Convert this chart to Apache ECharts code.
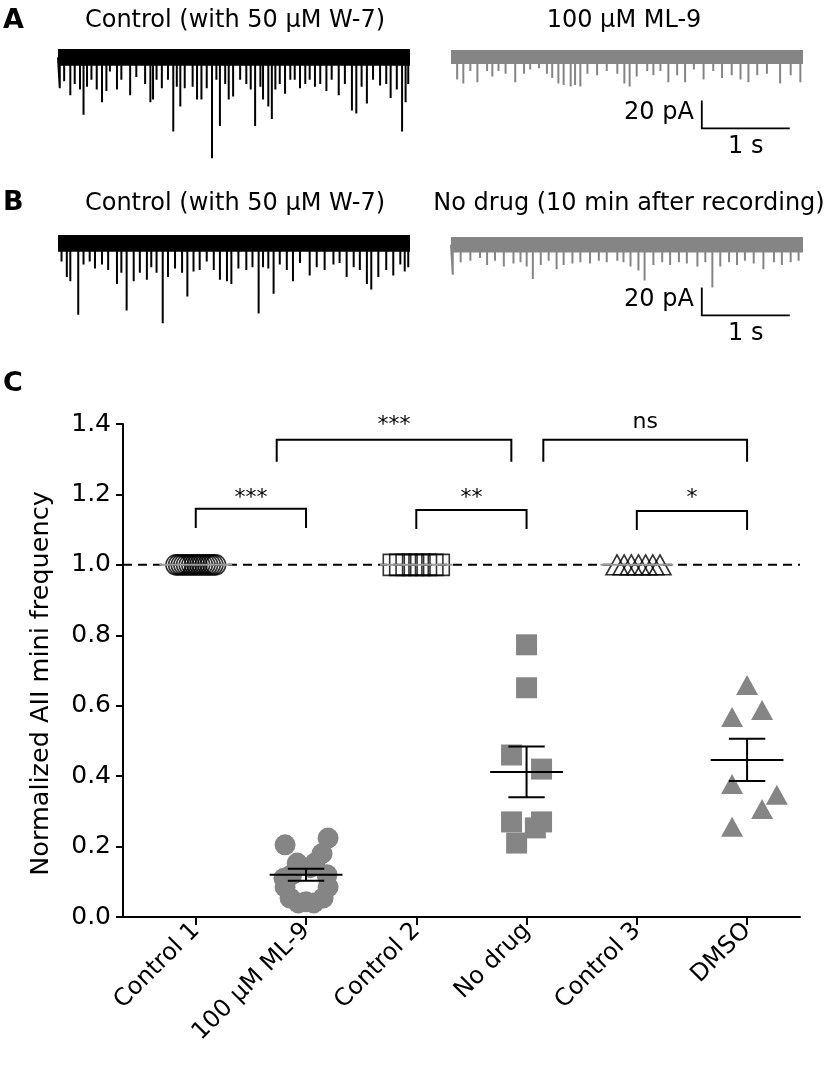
<!DOCTYPE html>
<html><head><meta charset="utf-8">
<script src="https://cdn.jsdelivr.net/npm/echarts@6/dist/echarts.min.js"></script>
<style>html,body{margin:0;padding:0;background:#fff}#c{width:826px;height:1076px}</style>
</head><body><div id="c"></div>
<script>
// ---------- Panel C data ----------
const categories = ['Control 1', '100 μM ML-9', 'Control 2', 'No drug', 'Control 3', 'DMSO'];
const categoryPos = [1, 2, 3, 4, 5, 6];
const yTickValues = [0, 0.2, 0.4, 0.6, 0.8, 1.0, 1.2, 1.4];
const refLevel = 1.0;

const control1X = [0.82, 0.844, 0.868, 0.892, 0.916, 0.94, 0.964, 0.988, 1.012, 1.036, 1.06, 1.084, 1.108, 1.132, 1.156, 1.18];
const control1Y = [1, 1, 1, 1, 1, 1, 1, 1, 1, 1, 1, 1, 1, 1, 1, 1];
const ml9X = [1.81, 2.20, 2.145, 1.92, 2.08, 1.87, 2.19, 1.81, 1.855, 2.0, 2.155, 2.2, 1.93, 2.07, 1.80, 2.04];
const ml9Y = [0.205, 0.224, 0.18, 0.153, 0.153, 0.12, 0.12, 0.085, 0.054, 0.043, 0.054, 0.085, 0.04, 0.04, 0.11, 0.14];
const control2X = [2.796, 2.854, 2.912, 2.971, 3.029, 3.088, 3.146, 3.204];
const control2Y = [1, 1, 1, 1, 1, 1, 1, 1];
const noDrugX = [4.0, 4.0, 3.864, 4.136, 3.864, 4.136, 4.08, 3.91];
const noDrugY = [0.773, 0.651, 0.46, 0.42, 0.27, 0.27, 0.253, 0.21];
const control3X = [4.82, 4.885, 4.95, 5.015, 5.08, 5.145, 5.21];
const control3Y = [1, 1, 1, 1, 1, 1, 1];
const dmsoX = [6.0, 5.864, 6.136, 5.864, 6.27, 6.136, 5.864];
const dmsoY = [0.659, 0.568, 0.588, 0.378, 0.347, 0.307, 0.256];

const groupMean = [1.0, 0.12, 1.0, 0.412, 1.0, 0.446];
const groupSem = [0, 0.017, 0, 0.072, 0, 0.06];
const groupIsControl = [1, 0, 1, 0, 1, 0];

const bracketLeft = [1, 3, 5, 1.734, 4.152];
const bracketRight = [2, 4, 6, 3.862, 6.0];
const bracketTop = [1.159, 1.156, 1.153, 1.355, 1.355];
const bracketFoot = [1.105, 1.102, 1.099, 1.293, 1.293];
const bracketLabel = ['***', '**', '*', '***', 'ns'];
const bracketLabelY = [1.19, 1.19, 1.19, 1.395, 1.405];

// ---------- Panel A/B traces: [time s, event amplitude pA] ----------
const traceTitles = ['Control (with 50 μM W-7)', '100 μM ML-9', 'Control (with 50 μM W-7)', 'No drug (10 min after recording)'];
const traceBand = [12, 10, 12, 11]; // depth of the dense noise band, pA
const traceA_control = [[0.02,28],[0.07,23],[0.14,33],[0.19,25],[0.25,29],[0.29,47],[0.33,27],[0.38,22],[0.44,29],[0.50,38],[0.55,30],[0.59,16],[0.67,29],[0.72,22],[0.82,33],[0.89,20],[0.99,25],[1.05,38],[1.08,36],[1.12,22],[1.18,28],[1.25,22],[1.31,59],[1.35,27],[1.39,41],[1.44,28],[1.53,27],[1.58,36],[1.63,36],[1.69,28],[1.75,78],[1.80,22],[1.84,55],[1.90,25],[1.94,36],[1.99,34],[2.07,22],[2.14,25],[2.19,29],[2.24,55],[2.30,27],[2.33,36],[2.39,41],[2.43,50],[2.47,29],[2.52,25],[2.58,32],[2.64,22],[2.69,22],[2.75,28],[2.81,25],[2.86,22],[2.92,27],[2.98,25],[3.05,30],[3.11,22],[3.19,33],[3.26,25],[3.34,44],[3.39,46],[3.45,27],[3.51,39],[3.58,22],[3.66,26],[3.73,25],[3.78,35],[3.85,29],[3.91,59],[3.95,38],[3.98,25]];
const traceA_ml9 = [[0.07,21],[0.14,24],[0.22,15],[0.30,23],[0.41,15],[0.47,19],[0.54,15],[0.62,17],[0.73,23],[0.83,17],[0.90,14],[1.00,13],[1.09,17],[1.15,20],[1.22,24],[1.28,25],[1.36,26],[1.41,25],[1.47,26],[1.55,17],[1.66,18],[1.77,15],[1.89,17],[1.97,24],[2.03,26],[2.11,19],[2.23,15],[2.30,18],[2.38,15],[2.47,23],[2.57,18],[2.66,23],[2.76,14],[2.87,21],[2.98,15],[3.08,20],[3.19,18],[3.29,21],[3.38,23],[3.48,18],[3.59,17],[3.74,24],[3.86,18],[3.97,23]];
const traceB_control = [[0.04,19],[0.10,30],[0.14,33],[0.23,57],[0.29,21],[0.36,19],[0.42,24],[0.50,21],[0.57,25],[0.67,35],[0.72,27],[0.78,54],[0.86,33],[0.93,27],[1.01,32],[1.06,23],[1.12,27],[1.19,63],[1.25,30],[1.33,24],[1.41,27],[1.47,44],[1.54,26],[1.61,25],[1.69,19],[1.77,25],[1.84,32],[1.92,33],[1.97,35],[2.05,24],[2.14,25],[2.21,23],[2.28,56],[2.33,23],[2.39,24],[2.45,42],[2.52,21],[2.60,25],[2.67,33],[2.75,20],[2.86,29],[2.94,23],[3.03,25],[3.13,21],[3.20,20],[3.28,30],[3.36,23],[3.43,25],[3.51,35],[3.56,39],[3.64,30],[3.73,25],[3.81,29],[3.89,21],[3.94,26],[3.98,23]];
const traceB_nodrug = [[0.02,27],[0.11,18],[0.22,17],[0.33,15],[0.41,20],[0.50,17],[0.60,21],[0.71,19],[0.79,18],[0.86,21],[0.93,30],[1.02,20],[1.11,17],[1.20,23],[1.28,20],[1.38,19],[1.47,18],[1.58,19],[1.68,17],[1.77,18],[1.89,17],[1.96,18],[2.04,21],[2.13,24],[2.20,31],[2.30,20],[2.40,18],[2.49,20],[2.59,18],[2.68,19],[2.80,21],[2.89,18],[2.97,36],[3.06,21],[3.16,18],[3.25,20],[3.34,17],[3.44,19],[3.55,23],[3.67,18],[3.76,20],[3.86,18],[3.95,17]];
const scaleBarOrigin = [2.85, -56]; // [s, pA]
const scaleBarSize = [1, 20];        // 1 s, 20 pA

// ---------- build ----------
const FONT = '"DejaVu Sans", "Liberation Sans", sans-serif';
const GRAY = '#858585';
const zip = (xs, ys) => xs.map((x, i) => [x, ys[i]]);

function spikePath(events, band) {
  const base = -band / 2;
  const d = [[0, base]];
  events.forEach(e => { d.push([e[0], base], [e[0], -e[1]], [e[0], base]); });
  d.push([4, base]);
  return d;
}

const traces = [traceA_control, traceA_ml9, traceB_control, traceB_nodrug];
const traceColors = ['#000', GRAY, '#000', GRAY];

const grids = [
  { left: 58, top: 42, width: 352, height: 126 },
  { left: 451, top: 43, width: 352, height: 126 },
  { left: 58, top: 228, width: 352, height: 126 },
  { left: 451, top: 230, width: 352, height: 126 },
  { left: 123, top: 424, width: 677, height: 493 }
];
const xAxes = [], yAxes = [], series = [];
for (let i = 0; i < 4; i++) {
  xAxes.push({ gridIndex: i, type: 'value', min: 0, max: 4, show: false });
  yAxes.push({ gridIndex: i, type: 'value', min: -85, max: 5, show: false });
  series.push({
    type: 'line', xAxisIndex: i, yAxisIndex: i, data: spikePath(traces[i], traceBand[i]),
    showSymbol: false, symbol: 'none', silent: true,
    lineStyle: { color: traceColors[i], width: 2 },
    markArea: { silent: true, itemStyle: { color: traceColors[i], opacity: 1 },
      data: [[{ coord: [0, 0] }, { coord: [4, -traceBand[i]] }]] }
  });
}
// scale bars in right traces (drawn through the trace axes)
[1, 3].forEach(i => {
  series.push({
    type: 'custom', xAxisIndex: i, yAxisIndex: i, silent: true,
    data: [[scaleBarOrigin[0], scaleBarOrigin[1], scaleBarSize[0], scaleBarSize[1]]],
    renderItem: (params, api) => {
      const t0 = api.value(0), p0 = api.value(1), dt = api.value(2), dp = api.value(3);
      const top = api.coord([t0, p0 + dp]), corner = api.coord([t0, p0]), right = api.coord([t0 + dt, p0]);
      const midV = api.coord([t0, p0 + dp / 2]), midH = api.coord([t0 + dt / 2, p0]);
      return { type: 'group', children: [
        { type: 'polyline', shape: { points: [top, corner, right] }, style: { stroke: '#000', lineWidth: 1.8, fill: null } },
        { type: 'text', x: midV[0] - 8, y: midV[1] - 2, style: { text: dp + ' pA', fill: '#000', font: '24px ' + FONT, align: 'right', verticalAlign: 'middle' } },
        { type: 'text', x: midH[0], y: midH[1] + 6, style: { text: dt + ' s', fill: '#000', font: '24px ' + FONT, align: 'center', verticalAlign: 'top' } }
      ] };
    }
  });
});

// Panel C axes
xAxes.push({
  gridIndex: 4, type: 'value', min: 0.34, max: 6.48,
  axisLine: { show: true, onZero: false, lineStyle: { color: '#000', width: 2 } },
  axisTick: { show: true, customValues: categoryPos, length: 8, lineStyle: { color: '#000', width: 2 } },
  axisLabel: { show: true, customValues: categoryPos, rotate: 45, margin: 10, color: '#000',
    fontFamily: FONT, fontSize: 24, formatter: v => categories[Math.round(v) - 1] },
  splitLine: { show: false }
});
yAxes.push({
  gridIndex: 4, type: 'value', min: 0, max: 1.4, interval: 0.2,
  name: 'Normalized AII mini frequency', nameLocation: 'middle', nameGap: 69,
  nameTextStyle: { color: '#000', fontFamily: FONT, fontSize: 25.5, padding: [0, 26, 0, 0] },
  axisLine: { show: true, lineStyle: { color: '#000', width: 2 } },
  axisTick: { show: true, length: 7, lineStyle: { color: '#000', width: 2 } },
  axisLabel: { color: '#000', fontFamily: FONT, fontSize: 25, margin: 12,
    formatter: v => yTickValues.includes(Math.round(v * 10) / 10) ? v.toFixed(1) : '' },
  splitLine: { show: false }
});

// reference dashed line
series.push({
  type: 'line', xAxisIndex: 4, yAxisIndex: 4, symbol: 'none', silent: true, z: 1,
  data: [[0.34, refLevel], [6.48, refLevel]],
  lineStyle: { color: '#000', width: 2, type: [9, 6] }
});
const openStyle = { color: 'rgba(255,255,255,0)', borderColor: '#000', borderWidth: 1.6 };
const fillStyle = { color: GRAY, opacity: 1 };
const scat = (data, symbol, size, style) => ({
  type: 'scatter', xAxisIndex: 4, yAxisIndex: 4, data, symbol, symbolSize: size,
  itemStyle: style, silent: true, z: 3
});
series.push(scat(zip(control1X, control1Y), 'circle', 20, openStyle));
series.push(scat(zip(ml9X, ml9Y), 'circle', 21, fillStyle));
series.push(scat(zip(control2X, control2Y), 'rect', 21, openStyle));
series.push(scat(zip(noDrugX, noDrugY), 'rect', 21, fillStyle));
series.push(scat(zip(control3X, control3Y), 'triangle', [22, 20], openStyle));
series.push(scat(zip(dmsoX, dmsoY), 'triangle', [22, 20], fillStyle));

// mean ± SEM
series.push({
  type: 'custom', xAxisIndex: 4, yAxisIndex: 4, silent: true, z: 5,
  data: categoryPos.map((x, i) => [x, groupMean[i], groupSem[i], groupIsControl[i]]),
  renderItem: (params, api) => {
    const x = api.value(0), m = api.value(1), s = api.value(2), ctrl = api.value(3);
    const col = ctrl ? '#9a9a9a' : '#000';
    const seg = (a, b) => ({ type: 'line', shape: { x1: a[0], y1: a[1], x2: b[0], y2: b[1] }, style: { stroke: col, lineWidth: 2 } });
    const ch = [seg(api.coord([x - 0.33, m]), api.coord([x + 0.33, m]))];
    if (s > 0) {
      ch.push(seg(api.coord([x, m - s]), api.coord([x, m + s])));
      ch.push(seg(api.coord([x - 0.165, m + s]), api.coord([x + 0.165, m + s])));
      ch.push(seg(api.coord([x - 0.165, m - s]), api.coord([x + 0.165, m - s])));
    }
    return { type: 'group', children: ch };
  }
});
// significance brackets
series.push({
  type: 'custom', xAxisIndex: 4, yAxisIndex: 4, silent: true, z: 5,
  data: bracketLeft.map((l, i) => [l, bracketRight[i], bracketTop[i], bracketFoot[i], bracketLabelY[i]]),
  renderItem: (params, api) => {
    const l = api.value(0), r = api.value(1), t = api.value(2), f = api.value(3), ly = api.value(4);
    const pts = [api.coord([l, f]), api.coord([l, t]), api.coord([r, t]), api.coord([r, f])];
    const tp = api.coord([(l + r) / 2, ly]);
    return { type: 'group', children: [
      { type: 'polyline', shape: { points: pts }, style: { stroke: '#000', lineWidth: 2, fill: null } },
      { type: 'text', x: tp[0], y: tp[1], style: { text: bracketLabel[params.dataIndex], fill: '#000',
        font: '22px ' + FONT, align: 'center', verticalAlign: 'middle' } }
    ] };
  }
});

const txt = (text, x, y, size, bold, align) => ({
  type: 'text', x, y, silent: true,
  style: { text, fill: '#000', font: (bold ? 'bold ' : '') + size + 'px ' + FONT, align: align || 'center', verticalAlign: 'middle' }
});
const graphic = [
  txt('A', 3, 21, 27, true, 'left'),
  txt('B', 3, 203, 27, true, 'left'),
  txt('C', 3, 384, 27, true, 'left'),
  txt(traceTitles[0], 235, 21, 24),
  txt(traceTitles[1], 624, 21, 24),
  txt(traceTitles[2], 235, 204, 24),
  txt(traceTitles[3], 629, 204, 24)
];

const chart = echarts.init(document.getElementById('c'), null, { renderer: 'canvas' });
chart.setOption({
  animation: false, backgroundColor: '#fff',
  grid: grids, xAxis: xAxes, yAxis: yAxes, series, graphic
});
</script></body></html>
